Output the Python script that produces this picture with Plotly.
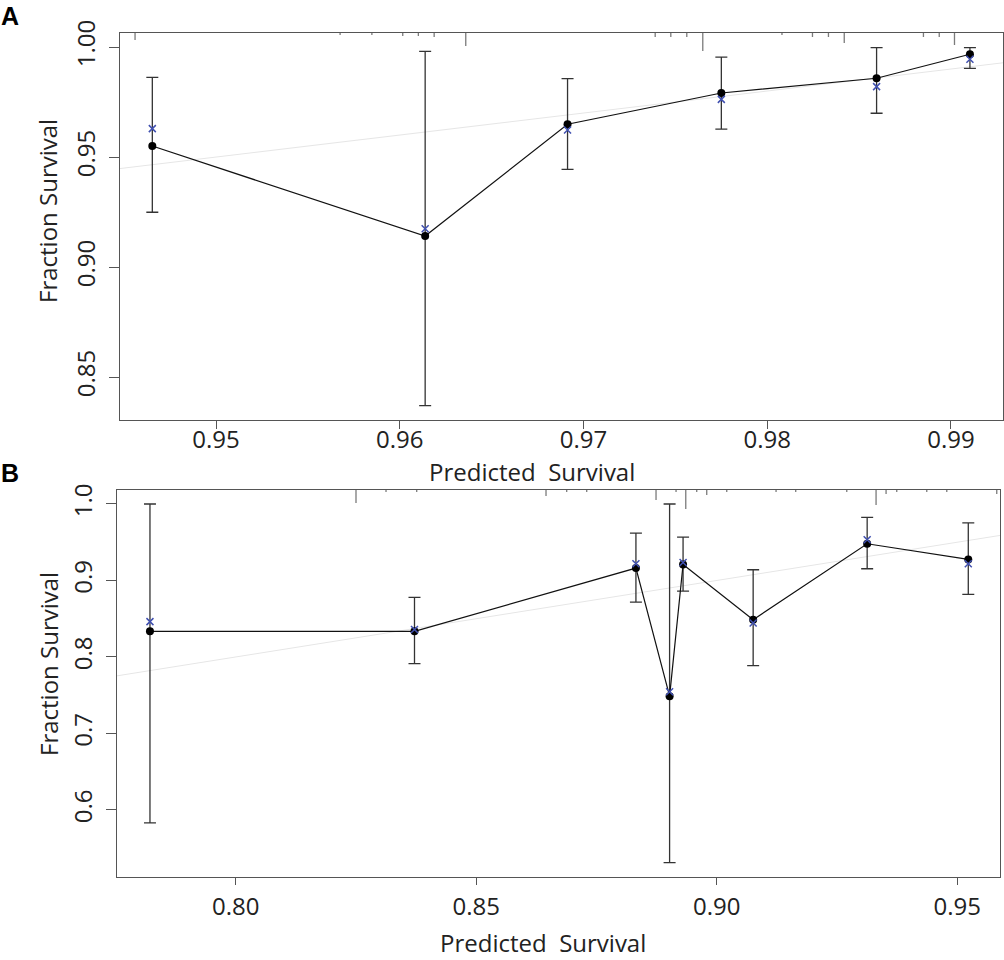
import plotly.graph_objects as go

# Panel A: calibration points
pred_a = [0.94653, 0.96138, 0.96913, 0.97750, 0.98595, 0.99103]
obs_a = [0.9550, 0.9141, 0.9649, 0.9791, 0.9858, 0.9967]
est_a = [0.9629, 0.9174, 0.9623, 0.9762, 0.9820, 0.9944]
upper_a = [0.9862, 0.9980, 0.9856, 0.9954, 0.9997, 0.9997]
lower_a = [0.9249, 0.8370, 0.9444, 0.9627, 0.9699, 0.9903]

# Panel A: rug of predicted values (relative heights)
rug_a_x = [0.94559, 0.95675, 0.95848, 0.96016, 0.96101, 0.96187, 0.96359,
           0.97390, 0.97475, 0.97562, 0.97649, 0.98080, 0.98246, 0.98333,
           0.98419, 0.98850, 0.98936, 0.99019]
rug_a_n = [7, 2, 2, 3, 3, 4, 13, 4, 4, 4, 18, 2, 4, 4, 10, 4, 4, 12]

# Panel B: calibration points
pred_b = [0.78218, 0.83717, 0.88320, 0.89020, 0.89300, 0.90757, 0.93127, 0.95229]
obs_b = [0.8335, 0.8335, 0.9162, 0.7488, 0.9209, 0.8488, 0.9480, 0.9275]
est_b = [0.8462, 0.8360, 0.9218, 0.7545, 0.9235, 0.8445, 0.9532, 0.9218]
upper_b = [1.0000, 0.8778, 0.9620, 1.0000, 0.9567, 0.9140, 0.9824, 0.9754]
lower_b = [0.5830, 0.7913, 0.8718, 0.5311, 0.8861, 0.7886, 0.9153, 0.8817]

# Panel B: rug of predicted values (relative heights)
rug_b_x = [0.82501, 0.83125, 0.83763, 0.86451, 0.86881, 0.87297, 0.88738,
           0.89154, 0.89356, 0.89584, 0.89792, 0.90208, 0.91233, 0.91642,
           0.92703, 0.93312, 0.93520, 0.93742, 0.94366, 0.94782, 0.95821]
rug_b_n = [13, 2, 2, 6, 2, 2, 10, 2, 19, 2, 5, 2, 2, 2, 2, 15, 4, 2, 2, 2, 4]

xrange_a = [0.94477, 0.99283]
yrange_a = [0.8305, 1.00636]
xrange_b = [0.77532, 0.95888]
yrange_b = [0.5128, 1.0183]

FONT = "Open Sans"
AXIS_COL = "#555555"
fig = go.Figure()


def add_panel(xa, ya, pred, obs, est, upper, lower, rug_x, rug_n, xr, yr):
    # ideal line y = x
    fig.add_trace(go.Scatter(x=xr, y=xr, mode="lines", xaxis=xa, yaxis=ya,
                             line=dict(color="#e6e6e6", width=1),
                             hoverinfo="skip", showlegend=False))
    # rug along top
    fig.add_trace(go.Scatter(
        x=rug_x, y=[yr[1]] * len(rug_x), mode="markers", xaxis=xa, yaxis=ya,
        marker=dict(symbol="line-ns", size=[n / 0.7 for n in rug_n],
                    line=dict(color="#444444", width=1.3)),
        cliponaxis=True, hoverinfo="skip", showlegend=False))
    # observed with CI
    fig.add_trace(go.Scatter(
        x=pred, y=obs, mode="lines+markers", xaxis=xa, yaxis=ya,
        line=dict(color="#111111", width=1.2),
        marker=dict(color="black", size=8),
        error_y=dict(type="data", symmetric=False,
                     array=[u - o for u, o in zip(upper, obs)],
                     arrayminus=[o - l for o, l in zip(obs, lower)],
                     color="#333333", thickness=1.3, width=6),
        showlegend=False))
    # bias-corrected estimate
    fig.add_trace(go.Scatter(
        x=pred, y=est, mode="markers", xaxis=xa, yaxis=ya,
        marker=dict(symbol="x-thin", size=7,
                    line=dict(color="#4050b0", width=1.5)),
        showlegend=False))


add_panel("x", "y", pred_a, obs_a, est_a, upper_a, lower_a,
          rug_a_x, rug_a_n, xrange_a, yrange_a)
add_panel("x2", "y2", pred_b, obs_b, est_b, upper_b, lower_b,
          rug_b_x, rug_b_n, xrange_b, yrange_b)

tickfont = dict(family=FONT, size=24, color="#222222")
common = dict(showgrid=False, zeroline=False, showline=True, mirror=True,
              linecolor=AXIS_COL, linewidth=1.4, ticks="outside",
              tickcolor=AXIS_COL, tickwidth=1.3, tickfont=tickfont,
              automargin=False)

fig.update_layout(
    width=1004, height=960,
    margin=dict(l=0, r=0, t=0, b=0),
    paper_bgcolor="white", plot_bgcolor="white",
    xaxis=dict(domain=[0.1195, 0.9990], range=xrange_a, anchor="y",
               tickvals=[0.95, 0.96, 0.97, 0.98, 0.99], tickformat=".2f",
               ticklen=8, ticklabelstandoff=-10, **common),
    yaxis=dict(domain=[0.5625, 0.9656], range=yrange_a, anchor="x",
               tickvals=[0.85, 0.90, 0.95, 1.00], tickformat=".2f",
               tickangle=-90, ticklen=10, ticklabelstandoff=4, **common),
    xaxis2=dict(domain=[0.1165, 0.9960], range=xrange_b, anchor="y2",
                tickvals=[0.80, 0.85, 0.90, 0.95], tickformat=".2f",
                ticklen=7, ticklabelstandoff=1, **common),
    yaxis2=dict(domain=[0.0868, 0.4896], range=yrange_b, anchor="x2",
                tickvals=[0.6, 0.7, 0.8, 0.9, 1.0], tickformat=".1f",
                tickangle=-90, ticklen=10, ticklabelstandoff=4, **common),
)

title_font = dict(family=FONT, size=24, color="#222222")
letter_font = dict(family="Liberation Sans", size=25, color="black")
annos = [
    dict(text="Predicted  Survival", x=532 / 1004, y=1 - 471 / 960,
         font=title_font),
    dict(text="Predicted  Survival", x=543 / 1004, y=1 - 942 / 960,
         font=title_font),
    dict(text="Fraction Survival", x=48 / 1004, y=1 - 211 / 960,
         textangle=-90, font=title_font),
    dict(text="Fraction Survival", x=48 / 1004, y=1 - 664 / 960,
         textangle=-90, font=title_font),
    dict(text="<b>A</b>", x=10 / 1004, y=1 - 16 / 960, font=letter_font),
    dict(text="<b>B</b>", x=10 / 1004, y=1 - 473 / 960, font=letter_font),
]
for a in annos:
    fig.add_annotation(xref="paper", yref="paper", showarrow=False,
                       xanchor="center", yanchor="middle", **a)

# page margin off so the 1004x960 figure fills the window
fig.write_html("out.html", config={"displayModeBar": False}, post_script=(
    "document.body.style.margin='0';"
    "document.body.style.overflow='hidden';"))
